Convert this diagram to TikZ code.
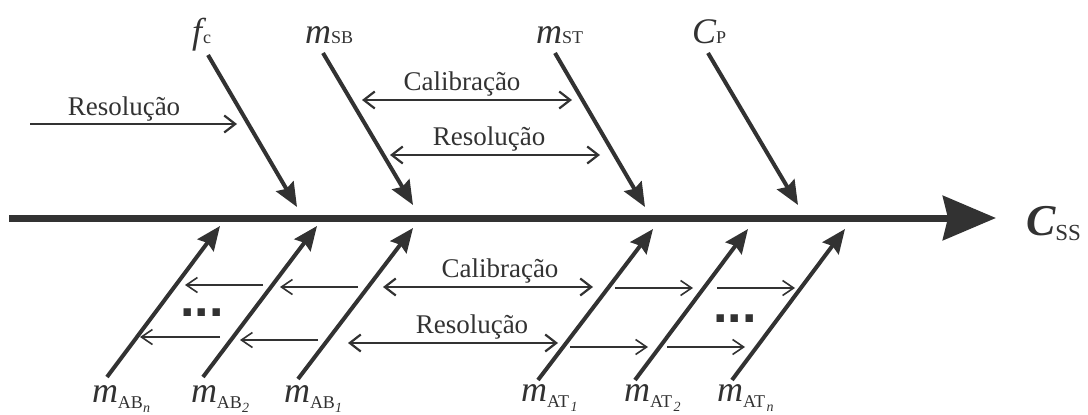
\documentclass[tikz,border=0pt]{standalone}
\usepackage{fontspec}
\setmainfont{Liberation Serif}
\newfontfamily\dotsfont{Liberation Sans}
\usetikzlibrary{arrows.meta}
\definecolor{ink}{RGB}{50,50,50}
\newcommand\mainsym[1]{{\fontsize{36}{36}\selectfont\itshape #1}}
\newcommand\subt[1]{{\fontsize{18}{18}\selectfont #1}}
\newcommand\subb[1]{{\fontsize{18}{18}\selectfont #1}}
\newcommand\subsub[1]{{\fontsize{14}{14}\selectfont\itshape #1}}
\begin{document}
\begin{tikzpicture}[x=1pt,y=-1pt,
  every node/.style={inner sep=0pt,outer sep=0pt,text=ink},
  spine/.style={draw=ink,line width=7pt,-{Stealth[length=53pt,width=44pt,inset=5pt]}},
  cause/.style={draw=ink,line width=4pt,-{Stealth[length=24pt,width=20pt,inset=3pt]}},
  harr/.style={draw=ink,line width=2.2pt,-{Straight Barb[length=11pt,width=17pt,line width=2.2pt]}},
  hdbl/.style={draw=ink,line width=2.2pt,{Straight Barb[length=11pt,width=17pt,line width=2.2pt]}-{Straight Barb[length=11pt,width=17pt,line width=2.2pt]}},
  sarr/.style={draw=ink,line width=1.6pt,-{Straight Barb[length=11pt,width=15pt,line width=1.6pt]}},
  word/.style={anchor=base,font=\fontsize{27}{27}\selectfont},
  lab/.style={anchor=base west},
  dots/.style={anchor=base,font=\dotsfont\bfseries\fontsize{52}{52}\selectfont}]
\useasboundingbox (0,0) rectangle (1088,415);

% spine
\coordinate (s0) at (9,218);
\coordinate (s1) at (996,218);
\draw[spine] (s0) -- (s1);
\node[anchor=base west] (css) at (1026,235) {{\fontsize{44}{44}\selectfont\bfseries\itshape C}\raisebox{-5pt}{\fontsize{23}{23}\selectfont SS}};

% top causes
\node[lab] (fc) at (192,43) {\mainsym{f}\kern1pt\subt{c}};
\node[lab] (msb) at (305,43) {\mainsym{m}\subt{SB}};
\node[lab] (mst) at (536,43) {\mainsym{m}\subt{ST}};
\node[lab] (cp) at (692,43) {\mainsym{C}\subt{P}};
\coordinate (fcA) at (208,55);  \coordinate (fcB) at (297,207);
\coordinate (sbA) at (323,53);  \coordinate (sbB) at (413,205);
\coordinate (stA) at (555,53);  \coordinate (stB) at (645,207);
\coordinate (cpA) at (708,53);  \coordinate (cpB) at (798,205);
\draw[cause] (fcA) -- (fcB);
\draw[cause] (sbA) -- (sbB);
\draw[cause] (stA) -- (stB);
\draw[cause] (cpA) -- (cpB);

% top horizontal arrows
\node[word] (res1) at (124,115) {Resolução};
\coordinate (r1A) at (30,124); \coordinate (r1B) at (237,124);
\draw[harr] (r1A) -- (r1B);
\node[word] (cal1) at (462,90) {Calibração};
\coordinate (c1A) at (362,100); \coordinate (c1B) at (572,100);
\draw[hdbl] (c1A) -- (c1B);
\node[word] (res2) at (489,145) {Resolução};
\coordinate (r2A) at (390,155); \coordinate (r2B) at (600,155);
\draw[hdbl] (r2A) -- (r2B);

% bottom causes
\node[lab] (abn) at (92,402) {\mainsym{m}\raisebox{-6pt}{\subb{AB}\raisebox{-4pt}{\subsub{n}}}};
\node[lab] (ab2) at (191,402) {\mainsym{m}\raisebox{-6pt}{\subb{AB}\raisebox{-4pt}{\subsub{2}}}};
\node[lab] (ab1) at (284,402) {\mainsym{m}\raisebox{-6pt}{\subb{AB}\raisebox{-4pt}{\subsub{1}}}};
\node[lab] (at1) at (521,401) {\mainsym{m}\raisebox{-6pt}{\subb{AT}\,\raisebox{-4pt}{\subsub{1}}}};
\node[lab] (at2) at (624,401) {\mainsym{m}\raisebox{-6pt}{\subb{AT}\,\raisebox{-4pt}{\subsub{2}}}};
\node[lab] (atn) at (717,401) {\mainsym{m}\raisebox{-6pt}{\subb{AT}\,\raisebox{-4pt}{\subsub{n}}}};
\coordinate (abnA) at (107,377); \coordinate (abnB) at (220,226);
\coordinate (ab2A) at (203,377); \coordinate (ab2B) at (317,226);
\coordinate (ab1A) at (298,379); \coordinate (ab1B) at (413,228);
\coordinate (at1A) at (538,380); \coordinate (at1B) at (653,229);
\coordinate (at2A) at (635,380); \coordinate (at2B) at (748,229);
\coordinate (atnA) at (732,380); \coordinate (atnB) at (845,229);
\draw[cause] (abnA) -- (abnB);
\draw[cause] (ab2A) -- (ab2B);
\draw[cause] (ab1A) -- (ab1B);
\draw[cause] (at1A) -- (at1B);
\draw[cause] (at2A) -- (at2B);
\draw[cause] (atnA) -- (atnB);

% bottom horizontal arrows
\node[word] (cal2) at (500,277) {Calibração};
\coordinate (c2A) at (383,287); \coordinate (c2B) at (593,287);
\draw[hdbl] (c2A) -- (c2B);
\node[word] (res3) at (472,333) {Resolução};
\coordinate (r3A) at (348,343); \coordinate (r3B) at (558,343);
\draw[hdbl] (r3A) -- (r3B);

\coordinate (l1A) at (358,287); \coordinate (l1B) at (280,287);
\coordinate (l2A) at (263,285); \coordinate (l2B) at (185,285);
\coordinate (l3A) at (318,340); \coordinate (l3B) at (240,340);
\coordinate (l4A) at (220,337); \coordinate (l4B) at (140,337);
\draw[sarr] (l1A) -- (l1B);
\draw[sarr] (l2A) -- (l2B);
\draw[sarr] (l3A) -- (l3B);
\draw[sarr] (l4A) -- (l4B);

\coordinate (q1A) at (615,288); \coordinate (q1B) at (693,288);
\coordinate (q2A) at (717,288); \coordinate (q2B) at (795,288);
\coordinate (q3A) at (570,347); \coordinate (q3B) at (648,347);
\coordinate (q4A) at (667,347); \coordinate (q4B) at (745,347);
\draw[sarr] (q1A) -- (q1B);
\draw[sarr] (q2A) -- (q2B);
\draw[sarr] (q3A) -- (q3B);
\draw[sarr] (q4A) -- (q4B);

\node[dots] (dl) at (202,316) {...};
\node[dots] (dr) at (735,322) {...};
\end{tikzpicture}
\end{document}
